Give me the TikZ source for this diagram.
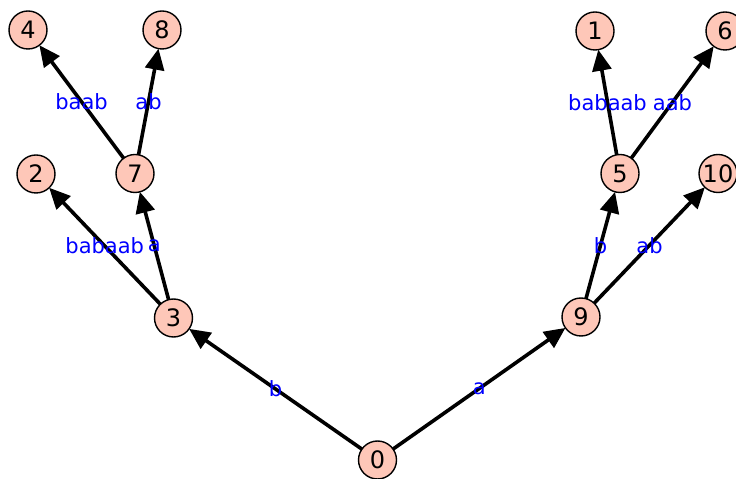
\documentclass[tikz,border=0pt]{standalone}
\usepackage{fontspec}
\setmainfont{DejaVu Sans}
\usetikzlibrary{arrows.meta}
\definecolor{vfill}{RGB}{254,199,184}
\begin{document}
\begin{tikzpicture}[x=1pt,y=1pt,
  vtx/.style={circle, draw=black, line width=1.4pt, fill=vfill, minimum size=38pt, inner sep=0pt, outer sep=0pt, font=\fontsize{24}{24}\selectfont},
  edge/.style={line width=3.6pt, -{Triangle[length=21pt,width=19pt]}},
  lbl/.style={text=blue, font=\fontsize{21}{21}\selectfont, inner sep=0pt}]
\useasboundingbox (0,0) rectangle (736,479);
\node[vtx] (n0) at (377.5,19) {0};
\node[vtx] (n3) at (173.5,161) {3};
\node[vtx] (n9) at (581,162) {9};
\node[vtx] (n2) at (36,305) {2};
\node[vtx] (n7) at (135,305.5) {7};
\node[vtx] (n5) at (620,305.5) {5};
\node[vtx] (n10) at (718,305.5) {10};
\node[vtx] (n4) at (28,449) {4};
\node[vtx] (n8) at (162,449) {8};
\node[vtx] (n1) at (595,448) {1};
\node[vtx] (n6) at (725,448) {6};
\draw[edge] (n0) -- (n3);
\draw[edge] (n0) -- (n9);
\draw[edge] (n3) -- (n2);
\draw[edge] (n3) -- (n7);
\draw[edge] (n9) -- (n5);
\draw[edge] (n9) -- (n10);
\draw[edge] (n7) -- (n4);
\draw[edge] (n7) -- (n8);
\draw[edge] (n5) -- (n1);
\draw[edge] (n5) -- (n6);
\path (n0) -- (n3) node[lbl, midway] {b};
\path (n0) -- (n9) node[lbl, midway] {a};
\path (n3) -- (n2) node[lbl, midway] {babaab};
\path (n3) -- (n7) node[lbl, midway] {a};
\path (n9) -- (n5) node[lbl, midway] {b};
\path (n9) -- (n10) node[lbl, midway] {ab};
\path (n7) -- (n4) node[lbl, midway] {baab};
\path (n7) -- (n8) node[lbl, midway] {ab};
\path (n5) -- (n1) node[lbl, midway] {babaab};
\path (n5) -- (n6) node[lbl, midway] {aab};
\end{tikzpicture}
\end{document}
